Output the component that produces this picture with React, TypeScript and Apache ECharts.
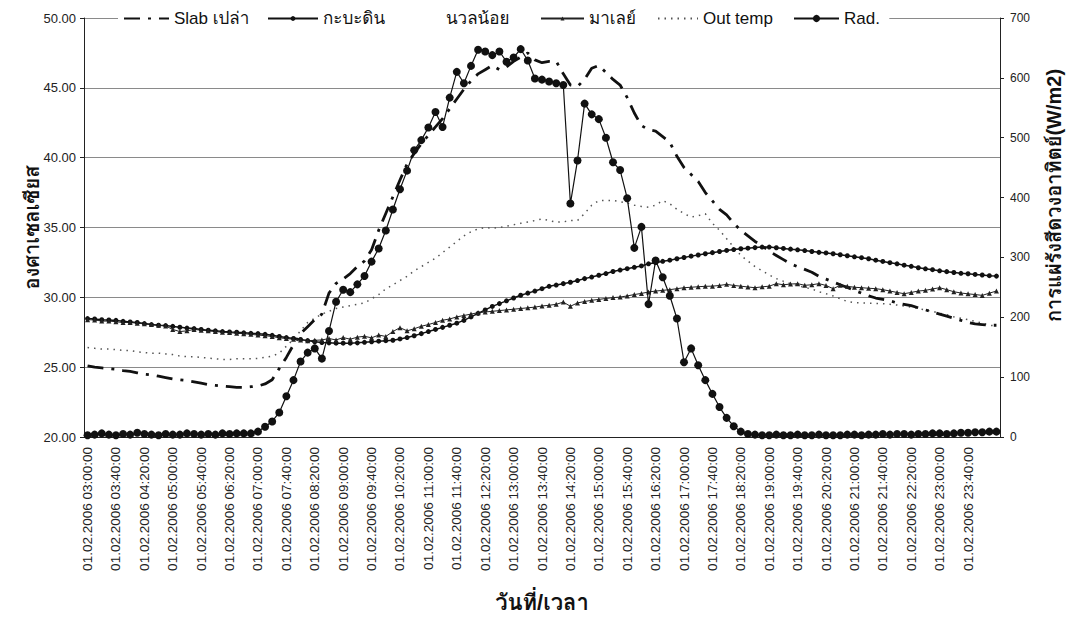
import React, { useEffect, useRef } from 'react';
import * as echarts from 'echarts';

// ---- categories (10-minute steps from 01.02.2006 03:00:00) ----
const START_MIN = 3 * 60;
const STEP_MIN = 10;
const N_POINTS = 129;
const categories: string[] = [];
for (let i = 0; i < N_POINTS; i++) {
  const m = START_MIN + i * STEP_MIN;
  const day = m >= 1440 ? '02' : '01';
  const mm = m % 1440;
  const hh = String(Math.floor(mm / 60)).padStart(2, '0');
  const mi = String(mm % 60).padStart(2, '0');
  categories.push(`${day}.02.2006 ${hh}:${mi}:00`);
}

// ---- series values (°C, left axis) ----
const slab = [
  25.1, 25.0, 24.95, 24.9, 24.85, 24.75, 24.7, 24.6, 24.5, 24.45,
  24.35, 24.25, 24.15, 24.1, 24.05, 23.95, 23.85, 23.75, 23.7, 23.65,
  23.6, 23.55, 23.55, 23.6, 23.65, 23.8, 24.1, 24.9, 25.7, 26.6,
  27.4, 27.9, 28.4, 28.8, 30.3, 31.0, 31.3, 31.7, 32.2, 32.6,
  33.4, 34.8, 36.0, 37.2, 38.4, 39.55, 40.3, 41.0, 41.6, 42.2,
  42.8, 43.5, 44.2, 44.9, 45.5, 46.0, 46.3, 46.6, 46.3, 46.5,
  46.9, 47.2, 47.5, 47.0, 46.8, 46.9, 46.9, 46.0, 45.2, 45.1,
  45.6, 46.4, 46.6, 46.1, 45.6, 45.2, 44.3, 43.2, 42.3, 42.0,
  41.9, 41.5, 41.1, 40.1, 39.3, 38.8, 38.3, 37.5, 36.9, 36.3,
  35.9, 35.3, 34.8, 34.4, 34.0, 33.7, 33.3, 33.0, 32.7, 32.4,
  32.2, 32.0, 31.8, 31.5, 31.3, 31.1, 30.9, 30.7, 30.5, 30.3,
  30.1, 29.95, 29.85, 29.75, 29.6, 29.5, 29.4, 29.25, 29.1, 28.95,
  28.8, 28.65, 28.5, 28.35, 28.2, 28.1, 28.05, 28.0, 28.0,
];

const kaba = [
  28.48, 28.45, 28.4, 28.38, 28.35, 28.28, 28.24, 28.2, 28.12, 28.05,
  28.0, 27.98, 27.92, 27.86, 27.8, 27.76, 27.7, 27.65, 27.6, 27.55,
  27.52, 27.5, 27.46, 27.42, 27.4, 27.35, 27.28, 27.2, 27.12, 27.05,
  26.98, 26.9, 26.82, 26.76, 26.74, 26.72, 26.72, 26.72, 26.74, 26.78,
  26.82, 26.86, 26.9, 26.93, 27.02, 27.12, 27.25, 27.4, 27.55, 27.7,
  27.85, 28.0, 28.15, 28.35, 28.6, 28.85, 29.1, 29.35, 29.55, 29.75,
  29.95, 30.15, 30.3, 30.45, 30.62, 30.79, 30.88, 30.98, 31.08, 31.2,
  31.34, 31.45, 31.58, 31.7, 31.85, 31.95, 32.05, 32.15, 32.25, 32.4,
  32.48, 32.58, 32.66, 32.76, 32.85, 32.95, 33.03, 33.12, 33.2, 33.28,
  33.36, 33.42, 33.48, 33.52, 33.56, 33.6, 33.6, 33.55, 33.5, 33.45,
  33.4, 33.35, 33.28, 33.22, 33.18, 33.12, 33.05, 32.98, 32.9, 32.84,
  32.76, 32.66, 32.57, 32.48, 32.4, 32.3, 32.22, 32.12, 32.04, 31.98,
  31.9, 31.84, 31.78, 31.72, 31.69, 31.64, 31.6, 31.55, 31.52,
];

const nuannoi: number[] = [];

const malay = [
  28.4, 28.38, 28.3, 28.3, 28.25, 28.2, 28.2, 28.15, 28.1, 28.05,
  28.0, 27.95, 27.7, 27.55, 27.6, 27.7, 27.65, 27.6, 27.55, 27.5,
  27.48, 27.42, 27.4, 27.35, 27.3, 27.25, 27.2, 27.1, 27.05, 27.0,
  26.95, 26.9, 26.92, 26.95, 27.05, 26.95, 27.12, 27.0, 27.15, 27.21,
  27.1, 27.3, 27.2, 27.55, 27.83, 27.6, 27.75, 27.93, 28.05, 28.2,
  28.36, 28.45, 28.6, 28.7, 28.8, 28.9, 28.95, 29.0, 29.05, 29.1,
  29.15, 29.2, 29.25, 29.3, 29.38, 29.43, 29.5, 29.66, 29.36, 29.6,
  29.7, 29.79, 29.85, 29.92, 29.98, 30.02, 30.1, 30.2, 30.28, 30.38,
  30.45, 30.5, 30.55, 30.62, 30.69, 30.72, 30.76, 30.79, 30.8, 30.85,
  30.93, 30.85, 30.8, 30.74, 30.69, 30.75, 30.8, 30.98, 30.9, 30.95,
  30.98, 30.86, 30.9, 30.98, 30.85, 30.62, 30.86, 30.79, 30.72, 30.69,
  30.65, 30.62, 30.55, 30.45, 30.35, 30.26, 30.35, 30.45, 30.5, 30.6,
  30.69, 30.55, 30.4, 30.31, 30.25, 30.2, 30.14, 30.3, 30.45,
];

const outTemp = [
  26.4, 26.35, 26.3, 26.3, 26.25, 26.2, 26.2, 26.1, 26.05, 26.0,
  26.0, 25.95, 25.9, 25.8, 25.75, 25.75, 25.7, 25.65, 25.6, 25.55,
  25.55, 25.6, 25.6, 25.6, 25.62, 25.7, 25.8, 26.0, 26.5, 27.0,
  27.6, 28.2, 28.5, 28.8, 29.0, 29.2, 29.3, 29.4, 29.5, 29.6,
  29.9, 30.2, 30.6, 30.9, 31.2, 31.5, 31.9, 32.2, 32.5, 32.8,
  33.2, 33.6, 34.0, 34.4, 34.7, 34.9, 35.0, 34.95, 35.0, 35.1,
  35.2, 35.3, 35.4, 35.5, 35.62, 35.5, 35.38, 35.4, 35.5, 35.5,
  36.0, 36.6, 36.93, 36.93, 36.93, 36.85, 36.75, 36.6, 36.5, 36.45,
  36.6, 36.93, 36.7, 36.3, 36.0, 35.74, 35.85, 35.98, 35.3, 34.8,
  34.2, 33.6, 33.0, 32.6, 32.2, 31.9, 31.6, 31.34, 31.15, 30.98,
  30.85, 30.7, 30.6, 30.4, 30.26, 30.1, 29.9, 29.7, 29.62, 29.6,
  29.58, 29.56, 29.55, 29.5, 29.45, 29.38, 29.3, 29.2, 29.1, 29.0,
  28.85, 28.75, 28.6, 28.5, 28.4, 28.28, 28.16, 28.0, 27.95,
];

// ---- solar radiation (W/m2, right axis) ----
const rad = [
  3, 4, 6, 4, 3, 5, 4, 7, 5, 4,
  3, 5, 4, 4, 6, 5, 4, 5, 4, 6,
  5, 6, 6, 6, 9, 17, 26, 41, 68, 95,
  126, 141, 148, 131, 177, 226, 246, 242, 255, 269,
  293, 315, 345, 380, 414, 445, 479, 496, 517, 543,
  518, 567, 610, 591, 620, 647, 644, 638, 644, 627,
  634, 648, 629, 599, 597, 594, 591, 588, 390, 462,
  557, 539, 531, 500, 459, 446, 399, 316, 351, 222,
  295, 267, 236, 198, 125, 148, 120, 95, 72, 50,
  32, 18, 9, 5, 4, 3, 3, 4, 3, 3,
  4, 3, 3, 4, 3, 3, 3, 4, 4, 3,
  4, 4, 5, 4, 5, 5, 4, 5, 5, 6,
  6, 5, 6, 7, 7, 8, 8, 9, 9,
];

const seriesNames = ['Slab เปล่า', 'กะบะดิน', 'นวลน้อย', 'มาเลย์', 'Out temp', 'Rad.'];
const LAST_LABEL_INDEX = 124;

const FONT =
  '"Liberation Sans", Arial, Waree, Loma, Garuda, "Noto Sans Thai", "Noto Sans", "DejaVu Sans", sans-serif';

const legendText = { fontSize: 17, color: '#111', fontFamily: FONT };

export default function App() {
  const ref = useRef<HTMLDivElement>(null);
  useEffect(() => {
    document.body.style.margin = '0';
    if (!ref.current) return;
    const chart = echarts.init(ref.current, undefined, { renderer: 'svg' });
    const option: any = {
      animation: false,
      backgroundColor: '#ffffff',
      textStyle: { fontFamily: FONT },
      grid: {
        left: 84,
        right: 72,
        top: 18,
        bottom: 180,
        containLabel: false,
        outerBoundsMode: 'none',
      },
      legend: [
        {
          left: 118,
          top: 2,
          padding: [8, 640, 8, 5],
          backgroundColor: '#ffffff',
          itemWidth: 45,
          itemHeight: 10,
          textStyle: legendText,
          data: [{ name: seriesNames[0], itemStyle: { opacity: 0 } }],
        },
        {
          left: 267,
          top: 10,
          padding: 0,
          itemWidth: 50,
          itemHeight: 6,
          textStyle: legendText,
          data: [seriesNames[1]],
        },
        {
          left: 400,
          top: 10,
          padding: 0,
          itemWidth: 40,
          itemHeight: 10,
          textStyle: legendText,
          data: [{ name: seriesNames[2], itemStyle: { opacity: 0 }, lineStyle: { opacity: 0 } }],
        },
        {
          left: 540,
          top: 10,
          padding: 0,
          itemWidth: 43,
          itemHeight: 5,
          textStyle: legendText,
          data: [seriesNames[3]],
        },
        {
          left: 657,
          top: 10,
          padding: 0,
          itemWidth: 40,
          itemHeight: 10,
          textStyle: legendText,
          data: [{ name: seriesNames[4], itemStyle: { opacity: 0 } }],
        },
        {
          left: 793,
          top: 10,
          padding: 0,
          itemWidth: 45,
          itemHeight: 9,
          textStyle: legendText,
          data: [seriesNames[5]],
        },
      ],
      xAxis: {
        type: 'category',
        data: categories,
        boundaryGap: true,
        axisLine: { lineStyle: { color: '#222', width: 1 } },
        axisTick: { interval: 0, length: 5, lineStyle: { color: '#222' } },
        axisLabel: {
          interval: (i: number) => i % 4 === 0 && i <= LAST_LABEL_INDEX,
          rotate: 90,
          fontSize: 13.5,
          color: '#222',
          margin: 10,
          fontFamily: FONT,
        },
        splitLine: { show: false },
        name: 'วันที่/เวลา',
        nameLocation: 'middle',
        nameGap: 154,
        nameMoveOverlap: false,
        nameTextStyle: { fontSize: 22, fontWeight: 'bold', color: '#111', fontFamily: FONT },
      },
      yAxis: [
        {
          type: 'value',
          min: 20,
          max: 50,
          interval: 5,
          position: 'left',
          axisLine: { show: true, lineStyle: { color: '#222' } },
          axisTick: { show: true, length: 4, lineStyle: { color: '#222' } },
          axisLabel: {
            formatter: (v: number) => v.toFixed(2),
            fontSize: 13,
            color: '#222',
            margin: 8,
            fontFamily: FONT,
          },
          splitLine: { show: true, lineStyle: { color: '#8a8a8a', width: 1 } },
          name: 'องศาเซลเซียส',
          nameLocation: 'middle',
          nameRotate: 90,
          nameGap: 42,
          nameMoveOverlap: false,
          nameTextStyle: { fontSize: 20, fontWeight: 'bold', color: '#111', fontFamily: FONT },
        },
        {
          type: 'value',
          min: 0,
          max: 700,
          interval: 100,
          position: 'right',
          axisLine: { show: true, lineStyle: { color: '#222' } },
          axisTick: { show: true, length: 4, lineStyle: { color: '#222' } },
          axisLabel: { fontSize: 12, color: '#222', margin: 10, fontFamily: FONT },
          splitLine: { show: false },
          name: 'การแผ่รังสีดวงอาทิตย์(W/m2)',
          nameLocation: 'middle',
          nameRotate: 90,
          nameGap: 44,
          nameMoveOverlap: false,
          nameTextStyle: {
            fontSize: 20,
            fontWeight: 'bold',
            color: '#111',
            fontFamily: FONT,
            padding: [0, 0, 0, 64],
          },
        },
      ],
      series: [
        {
          name: seriesNames[0],
          type: 'line',
          yAxisIndex: 0,
          data: slab,
          symbol: 'none',
          lineStyle: { color: '#111', width: 2.8, type: [16, 8, 3, 8] },
          itemStyle: { color: '#111' },
          z: 3,
        },
        {
          name: seriesNames[1],
          type: 'line',
          yAxisIndex: 0,
          data: kaba,
          symbol: 'circle',
          symbolSize: 5,
          showAllSymbol: true,
          lineStyle: { color: '#111', width: 1.5 },
          itemStyle: { color: '#111' },
          z: 4,
        },
        {
          name: seriesNames[2],
          type: 'line',
          yAxisIndex: 0,
          data: nuannoi,
          symbol: 'none',
          lineStyle: { color: '#ffffff', width: 1 },
          itemStyle: { color: '#ffffff' },
        },
        {
          name: seriesNames[3],
          type: 'line',
          yAxisIndex: 0,
          data: malay,
          symbol: 'triangle',
          symbolSize: 5,
          showAllSymbol: true,
          lineStyle: { color: '#222', width: 1 },
          itemStyle: { color: '#222' },
          z: 4,
        },
        {
          name: seriesNames[4],
          type: 'line',
          yAxisIndex: 0,
          data: outTemp,
          symbol: 'none',
          lineStyle: { color: '#555', width: 1.5, type: [1.5, 5] },
          itemStyle: { color: '#555' },
          z: 2,
        },
        {
          name: seriesNames[5],
          type: 'line',
          yAxisIndex: 1,
          data: rad,
          symbol: 'circle',
          symbolSize: 8,
          showAllSymbol: true,
          lineStyle: { color: '#111', width: 1.2 },
          itemStyle: { color: '#111' },
          z: 5,
        },
      ],
    };
    chart.setOption(option);
    return () => chart.dispose();
  }, []);
  return <div ref={ref} style={{ width: 1072, height: 617 }} />;
}
